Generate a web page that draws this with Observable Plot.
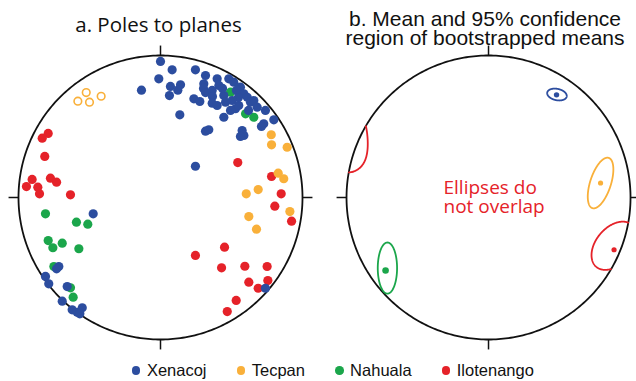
<!DOCTYPE html>
<html>
<head>
<meta charset="utf-8">
<script src="https://cdn.jsdelivr.net/npm/d3@7"></script>
<script src="https://cdn.jsdelivr.net/npm/@observablehq/plot@0.6"></script>
<style>
  body { margin: 0; background: #fff; width: 636px; height: 381px; overflow: hidden; }
  #titles { position: relative; height: 44px; }
  #title-a { position: absolute; left: 0; width: 317px; top: 14px; text-align: center;
             font: 20.5px "Open Sans"; line-height: 20.5px; color: #111; }
  .title-b { position: absolute; left: 330px; width: 310px; text-align: center;
             font: 21px "Liberation Sans"; line-height: 18px; color: #111; }
  #chart svg { display: block; }
  #legend { position: relative; height: 25px; display: flex; gap: 30px; padding-left: 131.7px;
            font: 16.5px "Liberation Sans"; line-height: 16.5px; color: #111; }
  .item { display: flex; align-items: center; gap: 6.6px; margin-top: 4px; }
  .sw { width: 8.6px; height: 8.6px; border-radius: 50%; display: inline-block; }
</style>
</head>
<body>
<div id="titles">
  <div id="title-a">a. Poles to planes</div>
  <div class="title-b" style="top: 10px">b. Mean and 95% confidence</div>
  <div class="title-b" style="top: 28.5px">region of bootstrapped means</div>
</div>
<div id="chart"></div>
<div id="legend"></div>
<script>
// Sites and their colours
const sites = ["Xenacoj", "Tecpan", "Nahuala", "Ilotenango"];
const siteColors = ["#2c4d9f", "#f9b03a", "#1ba64b", "#e52229"];

// Poles to planes, equal-area net coordinates (unit primitive circle, x east, y north)
const xenacojX = [0, 0.082, -0.012, -0.134, 0.070, 0.141, 0.122, 0.063, 0.246, 0.235, 0.277, 0.136, 0.246,
  0.317, 0.305, 0.303, 0.317, 0.399, 0.411, 0.364, 0.366, 0.364, 0.399, 0.446, 0.437,
  0.481, 0.516, 0.563, 0.587, 0.611, 0.634, 0.657, 0.535, 0.549,
  0.458, 0.505, 0.528, 0.493, 0.446, 0.551, 0.681, 0.739, 0.727, 0.711, 0.798, 0.620,
  0.317, 0.340, 0.575, 0.587, 0.563,
  -0.474, -0.716, -0.732, -0.810, -0.787, -0.657, -0.692, -0.622, -0.587, -0.551, -0.568, 0.739];
const xenacojY = [0.958, 0.899, 0.836, 0.756, 0.782, 0.794, 0.756, 0.718, 0.899, 0.695, 0.676, 0.582, 0.220,
  0.859, 0.801, 0.768, 0.739, 0.836, 0.789, 0.754, 0.711, 0.664, 0.648, 0.718, 0.768,
  0.836, 0.812, 0.777, 0.730, 0.706, 0.671, 0.683, 0.754, 0.704,
  0.671, 0.683, 0.625, 0.613, 0.565, 0.648, 0.636, 0.613, 0.519, 0.500, 0.547, 0.613,
  0.467, 0.477, 0.472, 0.437, 0.430,
  -0.115, -0.486, -0.502, -0.556, -0.608, -0.627, -0.730, -0.791, -0.808, -0.777, -0.819, -0.639];

const tecpanX = [0.780, 0.782, 0.892, 0.829, 0.868, 0.604, 0.688, 0.911, 0.622, 0.676];
const tecpanY = [0.442, 0.371, 0.354, 0.171, 0.132, 0.026, 0.056, -0.099, -0.134, -0.223];
// Tecpan poles drawn hollow
const tecpanHollowX = [-0.523, -0.582, -0.500, -0.418];
const tecpanHollowY = [0.739, 0.678, 0.671, 0.713];

const nahualaX = [0.599, 0.657, 0.493, -0.810, -0.592, -0.512, -0.791, -0.758, -0.692, -0.575, -0.751, -0.634, -0.615];
const nahualaY = [0.589, 0.565, 0.742, -0.115, -0.174, -0.188, -0.303, -0.354, -0.322, -0.361, -0.486, -0.636, -0.702];

const ilotenangoX = [-0.791, -0.833, -0.815, -0.904, -0.944, -0.864, -0.852, -0.775, -0.732, -0.634,
  0.544, 0.782, 0.850, 0.805, 0.923, 0.451, 0.246, 0.430, 0.594, 0.751, 0.622, 0.756, 0.688, 0.533, 0.470];
const ilotenangoY = [0.451, 0.418, 0.289, 0.127, 0.077, 0.073, 0.026, 0.136, 0.108, 0.019,
  0.246, 0.148, 0.026, -0.061, -0.167, -0.350, -0.408, -0.495, -0.484, -0.486, -0.596, -0.585, -0.639, -0.725, -0.803];

// Bootstrapped means per site (same net coordinates)
const meanX = [0.479, 0.789, -0.725, 0.884];
const meanY = [0.723, 0.102, -0.514, -0.368];
const meanSize = [2.7, 2.6, 3.3, 2.6];

// 95% confidence ellipses: centre, semi-axes and orientation (degrees from east)
const ellipseCx = [0.482, 0.789, -0.712, 0.884];
const ellipseCy = [0.725, 0.102, -0.497, -0.340];
const ellipseA = [0.070, 0.186, 0.180, 0.194];
const ellipseB = [0.040, 0.073, 0.068, 0.128];
const ellipseAngle = [-12, 72, 90, 50];

// Layout in net radii: panel b sits to the right of panel a
const PANEL_B = 2.31;

const zip = (site, xs, ys) => xs.map((x, i) => ({site, x, y: ys[i]}));
const poles = [
  ...zip("Nahuala", nahualaX, nahualaY),
  ...zip("Ilotenango", ilotenangoX, ilotenangoY),
  ...zip("Tecpan", tecpanX, tecpanY),
  ...zip("Xenacoj", xenacojX, xenacojY)
];
const hollow = zip("Tecpan", tecpanHollowX, tecpanHollowY);
const means = sites.map((site, i) => ({site, x: meanX[i] + PANEL_B, y: meanY[i], size: meanSize[i]}));

// Ellipse outlines; parts beyond the primitive wrap to the antipodal side
const ellipseRows = [];
sites.forEach((site, i) => {
  const th = ellipseAngle[i] * Math.PI / 180;
  let seg = 0, prev = null;
  for (let k = 0; k <= 360; k++) {
    const t = k * Math.PI / 180;
    const u = ellipseA[i] * Math.cos(t), v = ellipseB[i] * Math.sin(t);
    let x = ellipseCx[i] + u * Math.cos(th) - v * Math.sin(th);
    let y = ellipseCy[i] + u * Math.sin(th) + v * Math.cos(th);
    const r = Math.hypot(x, y);
    const out = r > 1;
    if (prev !== null && out !== prev) seg++;
    prev = out;
    if (out) {
      const r2 = Math.sqrt(Math.max(0, 2 - r * r));
      x = -x / r * r2; y = -y / r * r2;
    }
    ellipseRows.push({site, seg: site + seg, x: x + PANEL_B, y});
  }
});

// Primitive circles and N/E/S/W ticks for both nets
const centers = [0, PANEL_B];
const circle = centers.flatMap((cx, p) => d3.range(0, 361, 1).map(a => ({
  p, x: cx + Math.cos(a * Math.PI / 180), y: Math.sin(a * Math.PI / 180)
})));
const ticks = centers.flatMap(cx => [0, 90, 180, 270].map(a => {
  const c = Math.cos(a * Math.PI / 180), s = Math.sin(a * Math.PI / 180);
  return {x1: cx + c, y1: s, x2: cx + 1.07 * c, y2: 1.07 * s};
}));

const chart = Plot.plot({
  width: 636,
  height: 312,
  margin: 0,
  x: {domain: [-160 / 142, 476 / 142], axis: null},
  y: {domain: [-159 / 142, 153 / 142], axis: null},
  color: {domain: sites, range: siteColors},
  r: {type: "identity"},
  marks: [
    Plot.line(circle, {x: "x", y: "y", z: "p", stroke: "#111", strokeWidth: 1.8}),
    Plot.link(ticks, {x1: "x1", y1: "y1", x2: "x2", y2: "y2", stroke: "#111", strokeWidth: 1.5}),
    Plot.dot(poles, {x: "x", y: "y", fill: "site", r: 4.6}),
    Plot.dot(hollow, {x: "x", y: "y", stroke: "site", fill: "none", r: 3.8, strokeWidth: 1.6}),
    Plot.line(ellipseRows, {x: "x", y: "y", z: "seg", stroke: "site", strokeWidth: 1.8}),
    Plot.dot(means, {x: "x", y: "y", fill: "site", r: "size"}),
    Plot.text([{x: PANEL_B - 0.317, y: 0.120, t: "Ellipses do\nnot overlap"}], {
      x: "x", y: "y", text: "t", textAnchor: "start", lineAnchor: "top", lineHeight: 1.0,
      fontFamily: "Open Sans", fontSize: 19, fill: "#e52229"
    })
  ]
});
document.getElementById("chart").appendChild(chart);

// Legend
const legend = document.getElementById("legend");
sites.forEach((s, i) => {
  const item = document.createElement("div");
  item.className = "item";
  const sw = document.createElement("span");
  sw.className = "sw";
  sw.style.background = siteColors[i];
  const label = document.createElement("span");
  label.textContent = s;
  item.append(sw, label);
  legend.appendChild(item);
});
</script>
</body>
</html>
